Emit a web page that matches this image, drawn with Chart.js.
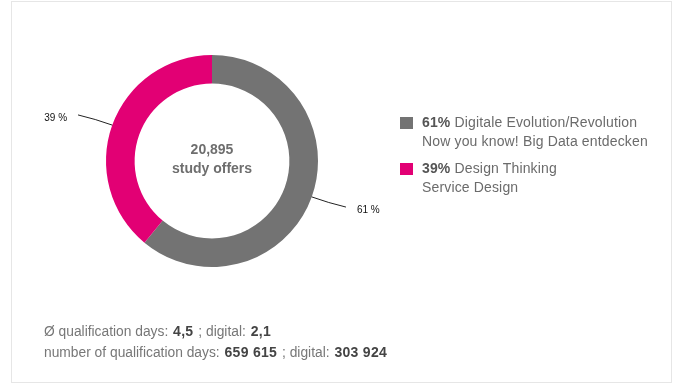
<!DOCTYPE html>
<html>
<head>
<meta charset="utf-8">
<script src="https://cdn.jsdelivr.net/npm/chart.js@4"></script>
<style>
  html, body { margin: 0; padding: 0; background: #fff; }
  body { width: 675px; height: 385px; position: relative; overflow: hidden; font-family: "Liberation Sans", Arial, sans-serif; }
  #frame { position: absolute; left: 11px; top: 1px; width: 659px; height: 380px; border: 1px solid #e6e6e6; }
  #chartBox { position: absolute; left: 0; top: 0; width: 424px; height: 322px; }
  #legend { position: absolute; left: 400px; top: 113px; font-size: 14px; color: #6b6b6b; line-height: 19px; letter-spacing: 0.15px; }
  .item { position: relative; padding-left: 22px; margin-bottom: 8px; }
  .item .sw { position: absolute; left: 0; top: 4px; width: 13px; height: 12px; }
  .item b { color: #555; }
  #facts { position: absolute; left: 44px; top: 321px; font-size: 13.8px; color: #777; line-height: 20px; }
  #facts b { color: #444; font-size: 14px; letter-spacing: 0.3px; margin: 0 1px; }
</style>
</head>
<body>
<div id="frame"></div>
<div id="chartBox"><canvas id="donut"></canvas></div>
<div id="legend"></div>
<div id="facts"></div>

<script>
// chart data
const shares = [61, 39];
const titles = [
  ["Digitale Evolution/Revolution", "Now you know! Big Data entdecken"],
  ["Design Thinking", "Service Design"]
];
const colors = ["#737373", "#e20074"];
const totalOffers = "20,895";
const centerCaption = "study offers";

// facts below the chart
const avgDays = "4,5";
const avgDigital = "2,1";
const totalDays = "659 615";
const totalDigital = "303 924";

// html legend
const legend = document.getElementById("legend");
shares.forEach((v, i) => {
  const div = document.createElement("div");
  div.className = "item";
  div.innerHTML = '<span class="sw" style="background:' + colors[i] + '"></span>' +
    "<b>" + v + "%</b> " + titles[i][0] + "<br>" + titles[i][1];
  legend.appendChild(div);
});

document.getElementById("facts").innerHTML =
  "Ø qualification days: <b>" + avgDays + "</b> ; digital: <b>" + avgDigital + "</b><br>" +
  "number of qualification days: <b>" + totalDays + "</b> ; digital: <b>" + totalDigital + "</b>";

// center text + outside labels with leader lines
const donutExtras = {
  id: "donutExtras",
  afterDraw(chart) {
    const ctx = chart.ctx;
    const meta = chart.getDatasetMeta(0);
    const a0 = meta.data[0];
    const cx = a0.x, cy = a0.y;

    ctx.save();
    ctx.fillStyle = "#6e6e6e";
    ctx.font = "bold 14px 'Liberation Sans', Arial, sans-serif";
    ctx.textAlign = "center";
    ctx.textBaseline = "middle";
    ctx.fillText(totalOffers, cx, cy - 11);
    ctx.fillText(centerCaption, cx, cy + 8);

    meta.data.forEach((arc, i) => {
      const mid = (arc.startAngle + arc.endAngle) / 2;
      const r = arc.outerRadius;
      const cos = Math.cos(mid), sin = Math.sin(mid);
      const dir = cos < 0 ? -1 : 1;
      const sx = cx + cos * r, sy = cy + sin * r;
      const kx = cx + cos * (r + 18), ky = cy + sin * (r + 18);
      const ex = cx + cos * (r + 30) + dir * 6, ey = cy + sin * (r + 30);
      ctx.strokeStyle = "#222";
      ctx.lineWidth = 1;
      ctx.beginPath();
      ctx.moveTo(sx, sy);
      ctx.quadraticCurveTo(kx, ky, ex, ey);
      ctx.stroke();
      ctx.fillStyle = "#111";
      ctx.font = "10px 'Liberation Sans', Arial, sans-serif";
      ctx.textAlign = dir < 0 ? "right" : "left";
      ctx.fillText(shares[i] + " %", ex + dir * 11, ey + 3);
    });
    ctx.restore();
  }
};

new Chart(document.getElementById("donut"), {
  type: "doughnut",
  data: {
    labels: titles.map(t => t.join(" ")),
    datasets: [{
      data: shares,
      backgroundColor: colors,
      borderWidth: 0,
      hoverOffset: 0
    }]
  },
  options: {
    responsive: true,
    maintainAspectRatio: false,
    animation: false,
    cutout: "73%",
    layout: { padding: 55 },
    plugins: {
      legend: { display: false },
      tooltip: { enabled: false }
    }
  },
  plugins: [donutExtras]
});
</script>
</body>
</html>
